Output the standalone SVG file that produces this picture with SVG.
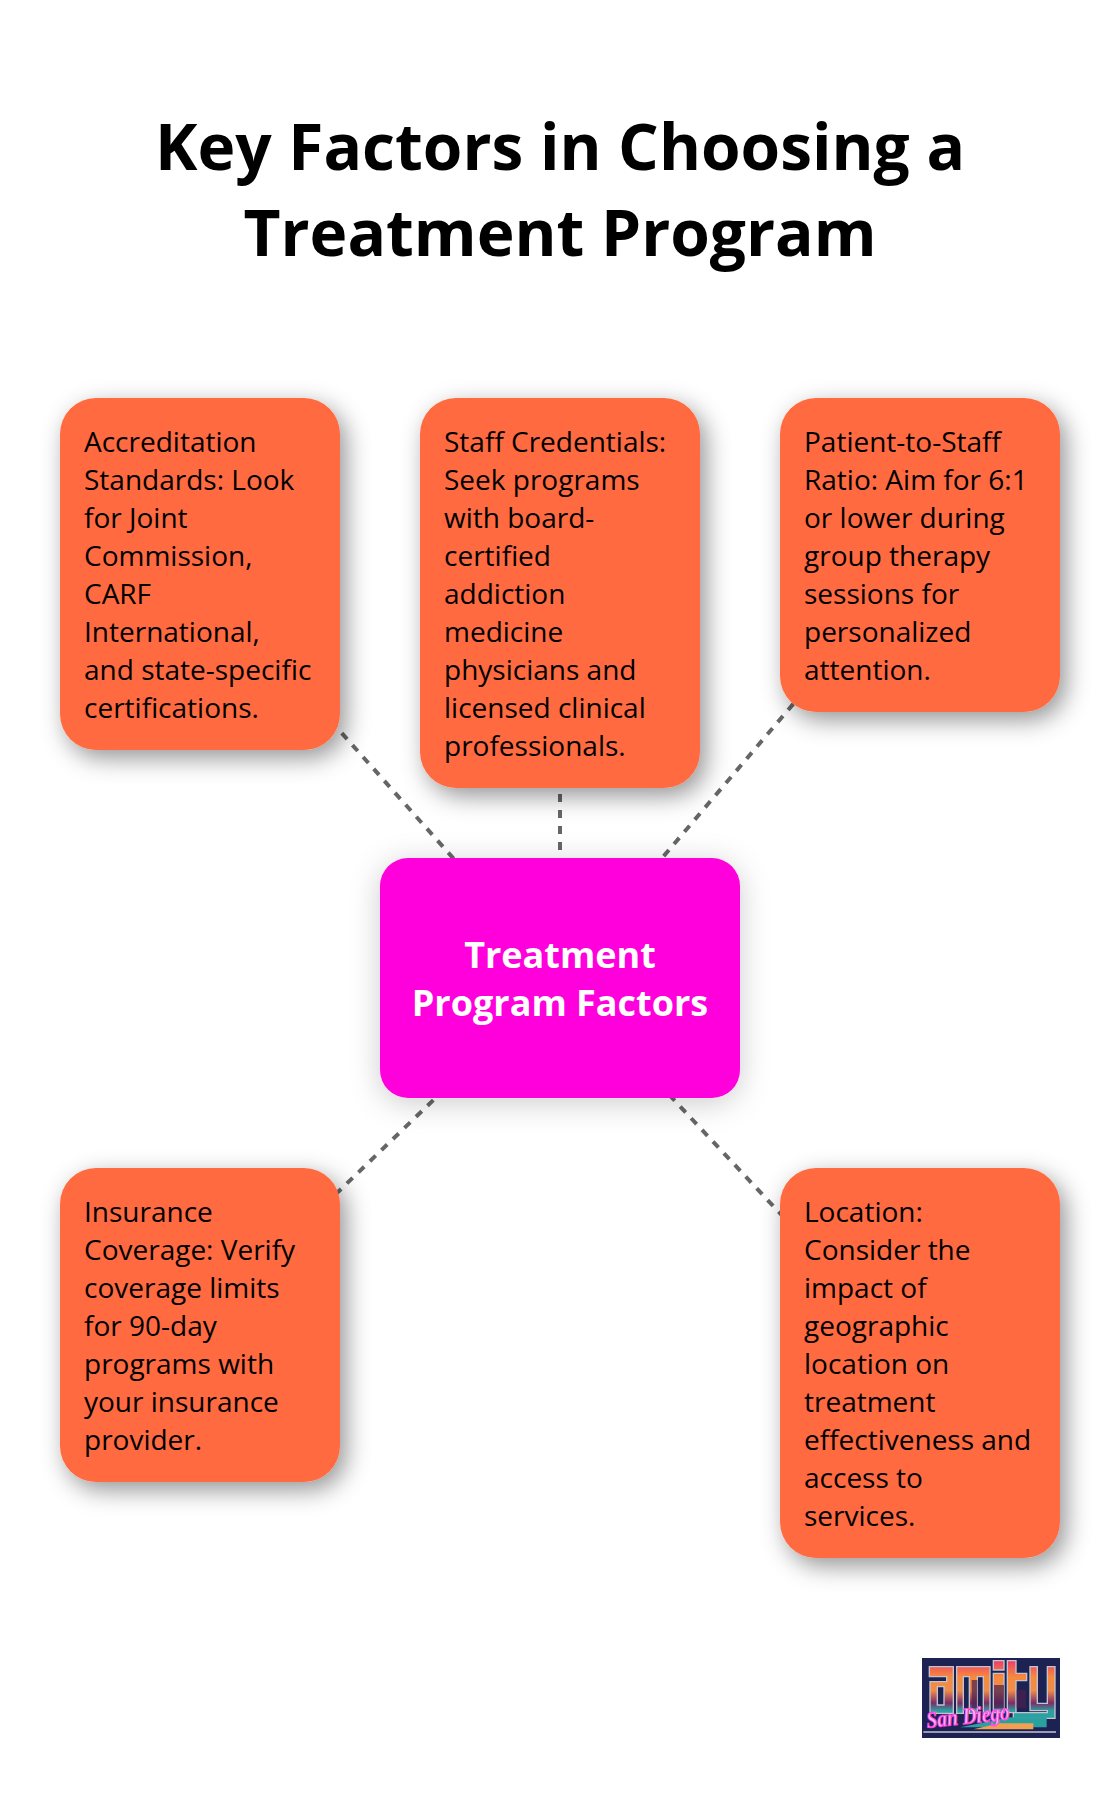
<svg xmlns="http://www.w3.org/2000/svg" width="1120" height="1798" viewBox="0 0 1120 1798">
<style>
text{font-family:"Open Sans","Noto Sans","DejaVu Sans",sans-serif}
.t{font-size:64px;font-weight:700;fill:#000;text-anchor:middle}
.b{font-size:28px;fill:#000}
.c{font-size:36px;font-weight:700;fill:#fff;text-anchor:middle}
.o{fill:#ff6b40;filter:url(#s)}
.m{fill:#ff00dc;filter:url(#s2)}
.l{stroke:#666;stroke-width:4;stroke-dasharray:8 8;fill:none}
</style>
<defs>
<filter id="s" x="-25%" y="-25%" width="150%" height="150%"><feDropShadow dx="6" dy="8" stdDeviation="12" flood-color="#000" flood-opacity=".42"/></filter>
<filter id="s2" x="-25%" y="-35%" width="150%" height="170%"><feDropShadow dx="0" dy="5" stdDeviation="15" flood-color="#000" flood-opacity=".2"/></filter>
<linearGradient id="g" gradientUnits="userSpaceOnUse" x1="0" y1="62" x2="0" y2="225">
<stop offset="0" stop-color="#ee3c6c"/><stop offset=".3" stop-color="#f68a3c"/><stop offset=".55" stop-color="#ee8c4a"/><stop offset=".78" stop-color="#7c2c68"/><stop offset=".92" stop-color="#2aa0a0"/>
</linearGradient>
</defs>
<rect width="1120" height="1798" fill="#fff"/>
<text class="t" x="560" y="170">Key Factors in Choosing a</text>
<text class="t" x="560" y="256">Treatment Program</text>
<g id="connectors">
<path class="l" d="M560 978L200 574"/>
<path class="l" d="M560 978V593"/>
<path class="l" d="M560 978L920 555"/>
<path class="l" d="M560 978L200 1325"/>
<path class="l" d="M560 978L920 1363"/>
</g>
<g id="n1"><rect class="o" x="60" y="398" width="280" height="352" rx="36"/>
<text class="b" x="84" y="452">Accreditation</text><text class="b" x="84" y="490">Standards: Look</text><text class="b" x="84" y="528">for Joint</text><text class="b" x="84" y="566">Commission,</text><text class="b" x="84" y="604">CARF</text><text class="b" x="84" y="642">International,</text><text class="b" x="84" y="680">and state-specific</text><text class="b" x="84" y="718">certifications.</text></g>
<g id="n2"><rect class="o" x="420" y="398" width="280" height="390" rx="36"/>
<text class="b" x="444" y="452">Staff Credentials:</text><text class="b" x="444" y="490">Seek programs</text><text class="b" x="444" y="528">with board-</text><text class="b" x="444" y="566">certified</text><text class="b" x="444" y="604">addiction</text><text class="b" x="444" y="642">medicine</text><text class="b" x="444" y="680">physicians and</text><text class="b" x="444" y="718">licensed clinical</text><text class="b" x="444" y="756">professionals.</text></g>
<g id="n3"><rect class="o" x="780" y="398" width="280" height="314" rx="36"/>
<text class="b" x="804" y="452">Patient-to-Staff</text><text class="b" x="804" y="490">Ratio: Aim for 6:1</text><text class="b" x="804" y="528">or lower during</text><text class="b" x="804" y="566">group therapy</text><text class="b" x="804" y="604">sessions for</text><text class="b" x="804" y="642">personalized</text><text class="b" x="804" y="680">attention.</text></g>
<g id="center"><rect class="m" x="380" y="858" width="360" height="240" rx="28"/>
<text class="c" x="560" y="968">Treatment</text><text class="c" x="560" y="1016">Program Factors</text></g>
<g id="n4"><rect class="o" x="60" y="1168" width="280" height="314" rx="36"/>
<text class="b" x="84" y="1222">Insurance</text><text class="b" x="84" y="1260">Coverage: Verify</text><text class="b" x="84" y="1298">coverage limits</text><text class="b" x="84" y="1336">for 90-day</text><text class="b" x="84" y="1374">programs with</text><text class="b" x="84" y="1412">your insurance</text><text class="b" x="84" y="1450">provider.</text></g>
<g id="n5"><rect class="o" x="780" y="1168" width="280" height="390" rx="36"/>
<text class="b" x="804" y="1222">Location:</text><text class="b" x="804" y="1260">Consider the</text><text class="b" x="804" y="1298">impact of</text><text class="b" x="804" y="1336">geographic</text><text class="b" x="804" y="1374">location on</text><text class="b" x="804" y="1412">treatment</text><text class="b" x="804" y="1450">effectiveness and</text><text class="b" x="804" y="1488">access to</text><text class="b" x="804" y="1526">services.</text></g>
<g id="logo" transform="translate(900 1640) scale(.33333)">
<rect x="66" y="54" width="414" height="240" fill="#1c2353"/>
<g fill="url(#g)" stroke="#c4c4d0" stroke-width="4" fill-rule="evenodd">
<path d="M88 80H160V220H90V125H140V110H88ZM112 140V195H132V140Z"/>
<path d="M170 80H270V220H250V110H232V220H208V110H190V220H170Z"/>
<path d="M280 62H312V90H280ZM280 100H312V218H280Z"/>
<path d="M322 62H348V100H380V122H348V218H322V122H322Z"/>
<path d="M390 80H412V190H442V80H465V235H340V218H442V212H390Z"/>
</g>
<path d="M282 135H312V205H282ZM215 120H232V205H215ZM350 150H378V205H350Z" fill="#4a2050" opacity=".7"/>
<path d="M330 232H440V262H180Z" fill="#2aa0a0"/>
<path d="M300 250H400V268H220Z" fill="#f0a050"/>
<path d="M70 276H468" stroke="#c4c4d0" stroke-width="4"/>
<text x="82" y="264" transform="rotate(-6 82 264)" textLength="250" lengthAdjust="spacingAndGlyphs" style="font-family:'Liberation Serif',serif;font-size:70px;font-style:italic;font-weight:700" fill="#ffb0f4" stroke="#ff40e0" stroke-width="3">San Diego</text>
</g>
</svg>
